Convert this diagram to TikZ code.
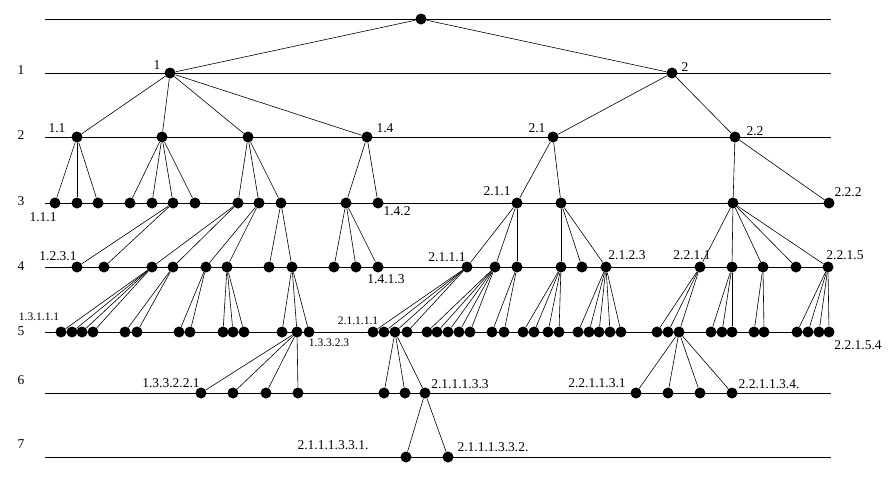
\documentclass[tikz,border=0pt]{standalone}
\usepackage{fontspec}
\setmainfont{Liberation Serif}
\usepackage{tikz}

\tikzset{
  dot/.style={circle,fill,inner sep=0pt,minimum size=11pt},
  lbl/.style={inner sep=0pt,font=\fontsize{13.5}{15}\selectfont},
  slbl/.style={inner sep=0pt,font=\fontsize{11.5}{13}\selectfont},
  level/.style={line width=0.9pt}
}

\begin{document}
\begin{tikzpicture}[x=1pt,y=-1pt,every edge/.style={draw,line width=0.6pt}]
    \useasboundingbox (0,0) rectangle (889,477);
    % level lines and numbers
    \foreach \y in {19,73,137,203,267,332,393,457}
      \draw[level] (45,\y) -- (831,\y);
    \foreach \k/\y in {1/70,2/135,3/201,4/266,5/331,6/380,7/444}
      \node[lbl] (lv\k) at (21,\y) {\k};

    \node[dot] (r) at (421,19) {};
    % level 1
    \foreach \n/\x/\p in {1/170/r,2/672/r}
      {\node[dot] (n\n) at (\x,73) {}; \path (\p) edge (n\n);}
    % level 2
    \foreach \n/\x/\p in {11/77/n1,12/162/n1,13/248/n1,14/367/n1,
                          21/553/n2,22/735/n2}
      {\node[dot] (n\n) at (\x,137) {}; \path (\p) edge (n\n);}
    % level 3
    \foreach \n/\x/\p in {111/55/n11,112/77/n11,113/98/n11,
                          121/130/n12,122/152/n12,123/173/n12,124/195/n12,
                          131/238/n13,132/259/n13,133/281/n13,
                          141/346/n14,142/378/n14,
                          211/517/n21,212/561/n21,
                          221/733/n22,222/829/n22}
      {\node[dot] (n\n) at (\x,203) {}; \path (\p) edge (n\n);}
    % level 4
    \foreach \n/\x/\p in {1231/77/n123,1232/104/n123,
                          1311/152/n131,1312/173/n131,
                          1321/206/n132,1322/227/n132,
                          1331/269/n133,1332/292/n133,
                          1411/334/n141,1412/356/n141,1413/378/n141,
                          2111/467/n211,2112/495/n211,2113/517/n211,
                          2121/561/n212,2122/582/n212,2123/606/n212,
                          2211/700/n221,2212/732/n221,2213/763/n221,
                          2214/796/n221,2215/828/n221}
      {\node[dot] (n\n) at (\x,267) {}; \path (\p) edge (n\n);}
    % level 5
    \foreach \n/\x/\p in {13111/61/n1311,13112/72/n1311,13113/82/n1311,13114/93/n1311,
                          13121/125/n1312,13122/137/n1312,
                          13211/179/n1321,13212/190/n1321,
                          13221/223/n1322,13222/233/n1322,13223/244/n1322,
                          13321/282/n1332,13322/297/n1332,13323/309/n1332,
                          21111/373/n2111,21112/384/n2111,21113/395/n2111,21114/407/n2111,
                          21121/427/n2112,21122/437/n2112,21123/448/n2112,
                          21124/459/n2112,21125/470/n2112,
                          21131/492/n2113,21132/504/n2113,
                          21211/523/n2121,21212/534/n2121,21213/548/n2121,21214/559/n2121,
                          21231/578/n2123,21232/589/n2123,21233/599/n2123,
                          21234/610/n2123,21235/621/n2123,
                          22111/657/n2211,22112/668/n2211,22113/679/n2211,
                          22121/711/n2212,22122/722/n2212,22123/732/n2212,
                          22131/754/n2213,22132/764/n2213,
                          22151/797/n2215,22152/808/n2215,22153/819/n2215,22154/829/n2215}
      {\node[dot] (n\n) at (\x,332) {}; \path (\p) edge (n\n);}
    % level 6
    \foreach \n/\x/\p in {133221/201/n13322,133222/233/n13322,133223/266/n13322,133224/298/n13322,
                          211131/384/n21113,211132/405/n21113,211133/425/n21113,
                          221131/636/n22113,221132/668/n22113,221133/700/n22113,221134/732/n22113}
      {\node[dot] (n\n) at (\x,393) {}; \path (\p) edge (n\n);}
    % level 7
    \foreach \n/\x/\p in {2111331/406/n211133,2111332/448/n211133}
      {\node[dot] (n\n) at (\x,457) {}; \path (\p) edge (n\n);}

    % labels
    \node[lbl] (t1) at (157,65) {1};
    \node[lbl] (t2) at (685,67) {2};
    \node[lbl] (t11) at (57,128) {1.1};
    \node[lbl] (t14) at (385,128) {1.4};
    \node[lbl] (t21) at (537,128) {2.1};
    \node[lbl] (t22) at (755,131) {2.2};
    \node[lbl] (t111) at (43,217) {1.1.1};
    \node[lbl] (t142) at (397,211) {1.4.2};
    \node[lbl] (t211) at (497,191) {2.1.1};
    \node[lbl] (t222) at (848,192) {2.2.2};
    \node[lbl] (t1231) at (58,256) {1.2.3.1};
    \node[lbl] (t1413) at (386,279) {1.4.1.3};
    \node[lbl] (t2111) at (447,257) {2.1.1.1};
    \node[lbl] (t2123) at (627,255) {2.1.2.3};
    \node[lbl] (t2211) at (692,255) {2.2.1.1};
    \node[lbl] (t2215) at (845,255) {2.2.1.5};
    \node[slbl] (t13111) at (39,317) {1.3.1.1.1};
    \node[slbl] (t13323) at (329,343) {1.3.3.2.3};
    \node[slbl] (t21111) at (358,321) {2.1.1.1.1};
    \node[lbl] (t22154) at (858,345) {2.2.1.5.4};
    \node[lbl] (t133221) at (171,383) {1.3.3.2.2.1};
    \node[lbl] (t211133) at (460,384) {2.1.1.1.3.3};
    \node[lbl] (t221131) at (597,383) {2.2.1.1.3.1};
    \node[lbl] (t221134) at (769,384) {2.2.1.1.3.4.};
    \node[lbl] (t2111331) at (333,445) {2.1.1.1.3.3.1.};
    \node[lbl] (t2111332) at (493,447) {2.1.1.1.3.3.2.};
\end{tikzpicture}
\end{document}
